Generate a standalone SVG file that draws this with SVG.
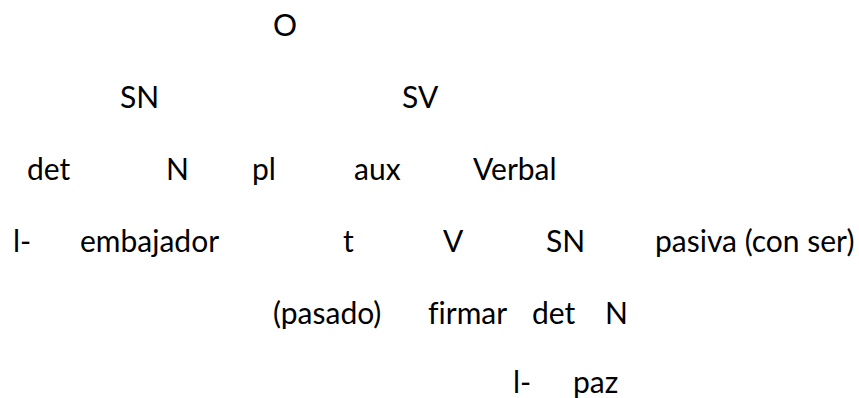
<svg xmlns="http://www.w3.org/2000/svg" width="859" height="398" viewBox="0 0 859 398">
<style>
text { font-family: Lato, "Liberation Sans", sans-serif; font-size: 30px; fill: #000; font-variant-ligatures: none; font-feature-settings: "liga" 0; }
</style>
<rect width="859" height="398" fill="#fff"/>
<g id="n-O"><text x="273" y="36">O</text></g>
<g id="n-SN1"><text x="120" y="108">SN</text></g>
<g id="n-SV"><text x="402" y="108">SV</text></g>
<g id="n-det1"><text x="27" y="180">det</text></g>
<g id="n-N1"><text x="166" y="180">N</text></g>
<g id="n-pl"><text x="252" y="180">pl</text></g>
<g id="n-aux"><text x="354" y="180">aux</text></g>
<g id="n-Verbal"><text x="473" y="180">Verbal</text></g>
<g id="n-l1"><text x="13" y="252">l-</text></g>
<g id="n-embajador"><text x="80" y="252">embajador</text></g>
<g id="n-t"><text x="343" y="252">t</text></g>
<g id="n-V"><text x="443" y="252">V</text></g>
<g id="n-SN2"><text x="546" y="252">SN</text></g>
<g id="n-pasiva"><text x="655" y="252">pasiva (con ser)</text></g>
<g id="n-pasado"><text x="273" y="324">(pasado)</text></g>
<g id="n-firmar"><text x="428" y="324">firmar</text></g>
<g id="n-det2"><text x="532" y="324">det</text></g>
<g id="n-N2"><text x="605" y="324">N</text></g>
<g id="n-l2"><text x="513" y="393">l-</text></g>
<g id="n-paz"><text x="573" y="393">paz</text></g>
<g id="connectors"></g>
</svg>
